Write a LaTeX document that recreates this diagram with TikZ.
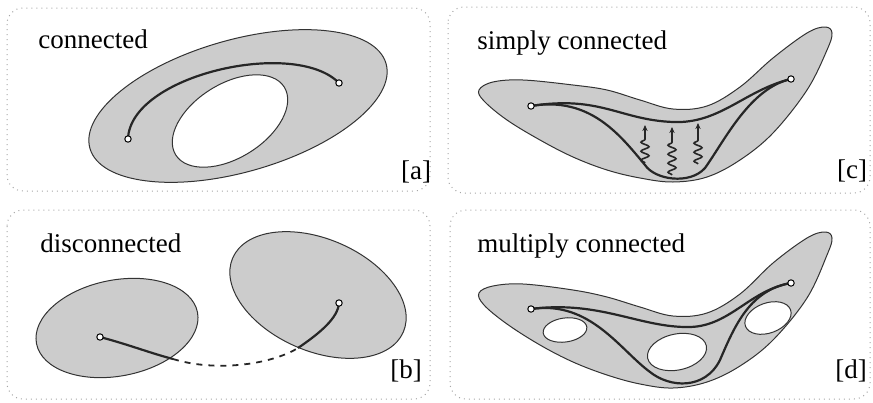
\documentclass[tikz,border=0pt]{standalone}
\usepackage{fontspec}
\setmainfont{Liberation Serif}
\usetikzlibrary{decorations.pathmorphing,arrows.meta}

\begin{document}
\begin{tikzpicture}[x=0.5pt, y=-0.5pt,
        panel/.style={draw=gray!70, dotted, line width=0.5pt, rounded corners=8pt},
        region/.style={draw=black!80, fill=gray!40, line width=0.5pt},
        hole/.style={draw=black!80, fill=white, line width=0.5pt},
        route/.style={draw=black!85, line width=1.1pt},
        pt/.style={draw=black, fill=white, circle, inner sep=0pt, minimum size=3.2pt, line width=0.5pt},
        title/.style={font=\fontsize{13.5}{16}\selectfont, anchor=base west, inner sep=0pt},
        tag/.style={font=\fontsize{13.5}{16}\selectfont, inner sep=0pt},
        wiggle/.style={draw=black!85, line width=0.8pt, -{Stealth[length=3pt,width=2.6pt]},
            decorate, decoration={snake, amplitude=2pt, segment length=4.5pt, post length=7pt}}]
      \useasboundingbox (0,0) rectangle (873,402);
      % Marcos de los cuatro casos
      \draw[panel] (7,8) rectangle (430,191);
      \draw[panel] (448,7) rectangle (870,193);
      \draw[panel] (7,210) rectangle (430,399);
      \draw[panel] (450,210) rectangle (870,399);
      % [a] anillo conexo
      \draw[region] (238,106) ellipse [x radius=154, y radius=66, rotate=16];
      \draw[hole] (230,121) ellipse [x radius=64, y radius=37, rotate=32];
      \coordinate (a1) at (128,139);
      \coordinate (a2) at (339,83);
      \draw[route] (a1) .. controls (130,75) and (295,38) .. (a2);
      \node[pt] (a1pt) at (a1) {};
      \node[pt] (a2pt) at (a2) {};
      \node[title] (la) at (38,48) {connected};
      \node[tag] (ta) at (416,172) {[a]};
      % [b] dos regiones separadas
      \draw[region] (117,328) ellipse [x radius=82, y radius=48, rotate=11];
      \draw[region] (318,295) ellipse [x radius=93, y radius=56, rotate=-23.5];
      \coordinate (b1) at (100,337);
      \coordinate (b2) at (339,303);
      \coordinate (bx1) at (173,359);
      \coordinate (bx2) at (298,348);
      \draw[route] (b1) .. controls (130,345) and (150,353) .. (bx1);
      \draw[route, dashed, line width=0.9pt] (bx1) .. controls (215,372) and (270,365) .. (bx2);
      \draw[route] (bx2) .. controls (320,333) and (338,318) .. (b2);
      \node[pt] (b1pt) at (b1) {};
      \node[pt] (b2pt) at (b2) {};
      \node[title] (lb) at (40,252) {disconnected};
      \node[tag] (tb) at (406,371) {[b]};
      % [c] boomerang simplemente conexo
      \draw[region] plot[smooth cycle, tension=0.6] coordinates {
        (479,90) (493,82) (523,80) (573,85) (607,90) (640,100) (673,109) (707,106)
        (740,87) (773,58) (807,33) (825,27) (832,33) (827,50) (807,90) (773,133)
        (740,160) (707,177) (673,182) (640,178) (607,170) (573,157) (540,140)
        (507,120) (484,101)};
      \coordinate (c1) at (531,106);
      \coordinate (c2) at (791,79);
      \draw[route] (c1) .. controls (600,95) and (620,120) .. (673,122)
                        .. controls (720,124) and (745,90) .. (c2);
      \draw[route] (c1) .. controls (590,96) and (620,135) .. (645,165)
                        .. controls (655,180) and (690,185) .. (705,168)
                        .. controls (725,140) and (750,88) .. (c2);
      \coordinate (w1a) at (645,163);
      \coordinate (w1b) at (645,125);
      \coordinate (w2a) at (672,175);
      \coordinate (w2b) at (672,127);
      \coordinate (w3a) at (698,164);
      \coordinate (w3b) at (698,123);
      \draw[wiggle] (w1a) -- (w1b);
      \draw[wiggle] (w2a) -- (w2b);
      \draw[wiggle] (w3a) -- (w3b);
      \node[pt] (c1pt) at (c1) {};
      \node[pt] (c2pt) at (c2) {};
      \node[title] (lc) at (477,49) {simply connected};
      \node[tag] (tc) at (852,171) {[c]};
      % [d] boomerang con tres huecos
      \draw[region] plot[smooth cycle, tension=0.6] coordinates {
        (479,293) (493,286) (523,284) (573,290) (607,297) (640,307) (673,316) (707,313)
        (740,294) (773,263) (807,238) (825,232) (832,238) (827,255) (807,298) (773,340)
        (740,366) (707,382) (673,388) (640,384) (607,375) (573,362) (540,345)
        (507,324) (484,305)};
      \draw[hole] (565,330) ellipse [x radius=22, y radius=12, rotate=8];
      \draw[hole] (677,352) ellipse [x radius=30, y radius=18, rotate=12];
      \draw[hole] (768,318) ellipse [x radius=24, y radius=15, rotate=20];
      \coordinate (d1) at (531,309);
      \coordinate (d2) at (791,283);
      \draw[route] (d1) .. controls (600,300) and (640,328) .. (690,327)
                        .. controls (730,326) and (750,290) .. (d2);
      \draw[route] (d1) .. controls (590,300) and (620,350) .. (650,372)
                        .. controls (670,388) and (705,390) .. (720,360)
                        .. controls (735,325) and (750,290) .. (d2);
      \node[pt] (d1pt) at (d1) {};
      \node[pt] (d2pt) at (d2) {};
      \node[title] (ld) at (477,252) {multiply connected};
      \node[tag] (td) at (851,371) {[d]};
    \end{tikzpicture}
\end{document}
